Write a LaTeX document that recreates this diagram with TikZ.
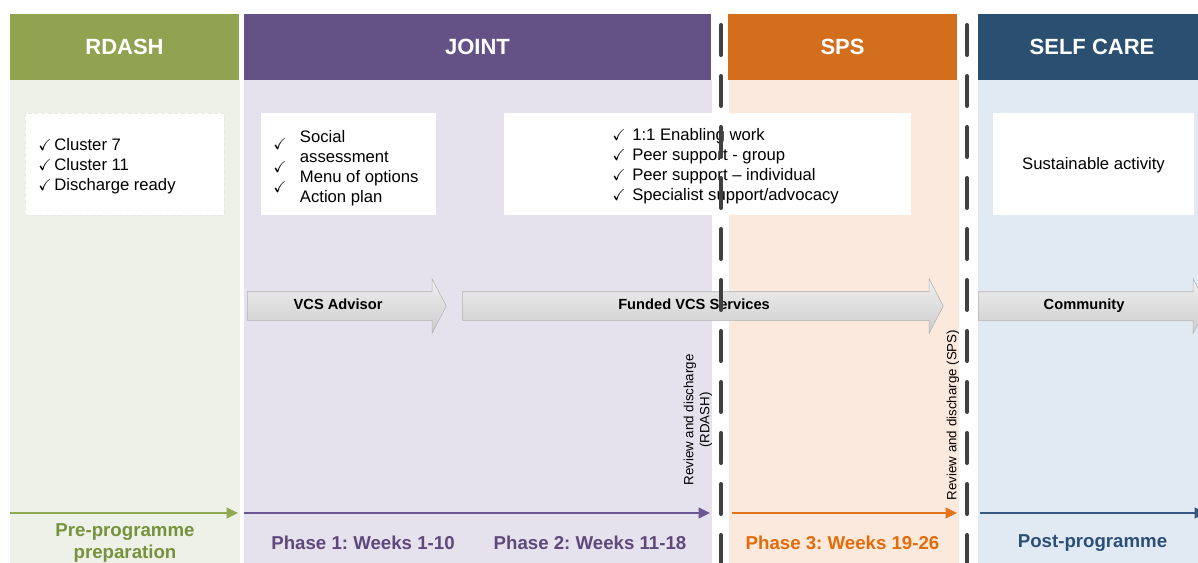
\documentclass[tikz,border=0pt]{standalone}
\usepackage{fontspec}
\setmainfont{Liberation Sans}
\usepackage{amssymb}
\usetikzlibrary{shapes.arrows,arrows.meta}
\frenchspacing

\definecolor{rdashgreen}{HTML}{8FA350}
\definecolor{rdashbody}{HTML}{EEF1E7}
\definecolor{jointpurple}{HTML}{645287}
\definecolor{jointbody}{HTML}{E5E2EE}
\definecolor{spsorange}{HTML}{D36E1D}
\definecolor{spsbody}{HTML}{FBE9DD}
\definecolor{selfblue}{HTML}{2B4F70}
\definecolor{selfbody}{HTML}{E1EAF3}
\definecolor{pretext}{HTML}{76923C}
\definecolor{preline}{HTML}{8FAA50}
\definecolor{jointtext}{HTML}{5F497A}
\definecolor{jointline}{HTML}{6B5691}
\definecolor{spstext}{HTML}{E36C09}
\definecolor{spsline}{HTML}{E4741A}
\definecolor{selftext}{HTML}{2B4F76}
\definecolor{selfline}{HTML}{35587F}
\definecolor{divgray}{HTML}{404040}

\newcommand{\tick}[1][12pt]{\makebox[#1][l]{\fontsize{12}{12}\selectfont$\checkmark$}}

\begin{document}
\begin{tikzpicture}[x=0.75pt,y=-0.75pt,
	head/.style={fill=#1, text=white, minimum height=49.5pt, inner sep=0pt, font=\fontsize{16.5}{20}\selectfont\bfseries},
	body/.style={fill=#1, minimum height=362.25pt, inner sep=0pt},
	card/.style={fill=white, minimum height=76.5pt, inner sep=0pt},
	list/.style={align=left, inner sep=0pt, font=\fontsize{12.5}{15}\selectfont},
	block/.style={single arrow, draw=gray!60, top color=gray!12, bottom color=gray!40, anchor=tail,
		single arrow head extend=9.75pt, single arrow head indent=0pt, single arrow tip angle=125,
		text height=7.5pt, text depth=2.5pt, inner ysep=5.5pt, inner xsep=0pt, minimum width=40.5pt,
		font=\fontsize{11}{13}\selectfont\bfseries},
	phase/.style={text=#1, align=center, inner sep=0pt, font=\fontsize{14}{16.5}\selectfont\bfseries},
	timeline/.style={draw=#1, line width=1.2pt, -{Triangle[length=8.5pt,width=8pt]}},
	divider/.style={draw=divgray, line width=3pt, line cap=round, dash pattern=on 22.5pt off 15.75pt},
	review/.style={rotate=90, align=center, inner sep=0pt, font=\fontsize{10}{12}\selectfont}
	]
	\useasboundingbox (0,0) rectangle (1198,563);
	\clip (0,0) rectangle (1198,563);

	% column backgrounds
	\node[body=rdashbody, minimum width=172.5pt] (rdash body) at (125,321.5) {};
	\node[body=jointbody, minimum width=351pt] (joint body) at (478,321.5) {};
	\node[body=spsbody, minimum width=172.5pt] (sps body) at (844,321.5) {};
	\node[body=selfbody, minimum width=171pt] (self body) at (1092,321.5) {};

	% headers
	\node[head=rdashgreen, minimum width=171.75pt] (rdash head) at (124.5,47) {RDASH};
	\node[head=jointpurple, minimum width=350.25pt] (joint head) at (477.5,47) {JOINT};
	\node[head=spsorange, minimum width=171.75pt] (sps head) at (842.5,47) {SPS};
	\node[head=selfblue, minimum width=171pt] (self head) at (1092,47) {SELF CARE};

	% white cards
	\node[card, minimum width=149.25pt, draw=gray!18, densely dashed, line width=0.4pt] (rdash card) at (124.5,164) {};
	\node[card, minimum width=131.25pt] (joint card) at (348.5,164) {};
	\node[card, minimum width=305.25pt] (sps card) at (707.5,164) {};
	\node[card, minimum width=150.75pt, text height=9pt, text depth=0pt, font=\fontsize{12.5}{15}\selectfont] (self card) at (1093.5,164) {Sustainable activity};

	\node[list, anchor=west] (rdash list) at (38,166) {
		\tick Cluster 7\\
		\tick Cluster 11\\
		\tick Discharge ready
	};
	\node[list, anchor=west] (joint list) at (273,168) {
		\begin{tabular}{@{}l@{}l@{}}
			\raisebox{-5.5pt}[0pt][0pt]{\tick[20pt]} & Social\\
			\raisebox{-7.5pt}[0pt][0pt]{\tick[20pt]} & assessment\\
			\raisebox{-7.5pt}[0pt][0pt]{\tick[20pt]} & Menu of options\\
			 & Action plan
		\end{tabular}
	};
	\node[list, anchor=west] (sps list) at (612,166.5) {
		\tick[15pt]1:1 Enabling work\\
		\tick[15pt]Peer support - group\\
		\tick[15pt]Peer support -- individual\\
		\tick[15pt]Specialist support/advocacy
	};

	% service arrows
	\node[block, minimum height=149.25pt] (advisor) at (247,306) {\hspace*{-7.5pt}VCS Advisor};
	\node[block, minimum height=360.75pt] (funded) at (462,306) {\hspace*{-7.5pt}Funded VCS Services};
	\node[block, minimum height=171.75pt] (community) at (978,306) {\hspace*{-7.5pt}Community};

	% review points
	\draw[divider] (721,25) -- (721,575);
	\draw[divider] (967,25) -- (967,575);

	\node[review] (rdash review) at (698,420) {Review and discharge\\(RDASH)};
	\node[review] (sps review) at (953,415) {Review and discharge (SPS)};

	% timeline
	\coordinate (pre start) at (10,513);
	\coordinate (pre end) at (238,513);
	\coordinate (joint start) at (244,513);
	\coordinate (joint end) at (710,513);
	\coordinate (sps start) at (732,513);
	\coordinate (sps end) at (957,513);
	\coordinate (self start) at (980,513);
	\coordinate (self end) at (1206,513);

	\draw[timeline=preline] (pre start) -- (pre end);
	\draw[timeline=jointline] (joint start) -- (joint end);
	\draw[timeline=spsline] (sps start) -- (sps end);
	\draw[timeline=selfline] (self start) -- (self end);

	\node[phase=pretext] (pre label) at (125,543) {Pre-programme\\preparation};
	\node[phase=jointtext] (phase one) at (363,543) {Phase 1: Weeks 1-10};
	\node[phase=jointtext] (phase two) at (590,543) {Phase 2: Weeks 11-18};
	\node[phase=spstext] (phase three) at (842.5,543) {Phase 3: Weeks 19-26};
	\node[phase=selftext] (post label) at (1092.5,543.5) {Post-programme};

\end{tikzpicture}
\end{document}
